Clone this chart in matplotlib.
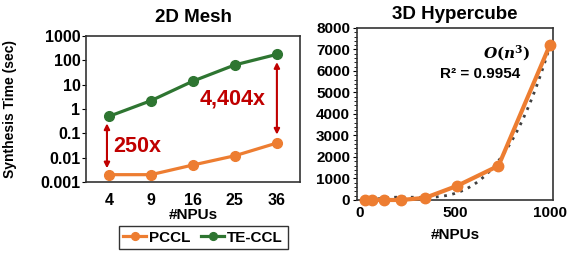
import numpy as np
import matplotlib.pyplot as plt
from matplotlib.ticker import MultipleLocator, LogLocator, NullFormatter

plt.rcParams['font.family'] = ['Liberation Sans', 'DejaVu Sans']
plt.rcParams['font.weight'] = 'bold'
plt.rcParams['axes.titleweight'] = 'bold'
plt.rcParams['axes.labelweight'] = 'bold'
plt.rcParams['mathtext.fontset'] = 'dejavuserif'

# 2D Mesh
mesh_npus = ["4", "9", "16", "25", "36"]
pccl_mesh = [0.002, 0.002, 0.005, 0.012, 0.04]
teccl_mesh = [0.5, 2.2, 14, 65, 176]

# 3D Hypercube
cube_npus = [27, 64, 125, 216, 343, 512, 729, 1000]
pccl_cube = [0, 0, 0, 0, 100, 660, 1590, 7220]

orange = '#ED7D31'
green = '#2E7531'
red = '#C00000'

fig = plt.figure(figsize=(5.69, 2.56), dpi=100)
ax1 = fig.add_axes([0.1511, 0.2891, 0.3761, 0.5703])
ax2 = fig.add_axes([0.6274, 0.2188, 0.3445, 0.6719])

# left panel
x = np.arange(len(mesh_npus))
ax1.plot(x, pccl_mesh, color=orange, lw=2.3, marker='o', ms=7, label='PCCL')
ax1.plot(x, teccl_mesh, color=green, lw=2.3, marker='o', ms=7, label='TE-CCL')
ax1.set_yscale('log')
ax1.set_ylim(0.001, 1000)
ax1.set_xlim(-0.55, 4.55)
ax1.set_xticks(x)
ax1.set_xticklabels(mesh_npus)
ax1.tick_params(axis='x', length=0, labelsize=11.5, pad=8)
ax1.set_yticks([0.001, 0.01, 0.1, 1, 10, 100, 1000])
ax1.set_yticklabels(['0.001', '0.01', '0.1', '1', '10', '100', '1000'])
ax1.yaxis.set_minor_locator(LogLocator(base=10, subs=np.arange(2, 10)))
ax1.yaxis.set_minor_formatter(NullFormatter())
ax1.tick_params(axis='y', which='major', length=3, labelsize=11.5, pad=1)
ax1.tick_params(axis='y', which='minor', length=2)
ax1.set_xlabel('#NPUs', fontsize=11, labelpad=0)
ax1.set_ylabel('Synthesis Time (sec)', fontsize=10)
ax1.yaxis.set_label_coords(-0.322, 0.5)
ax1.set_title('2D Mesh', fontsize=13.5, pad=10)
for s in ax1.spines.values():
    s.set_linewidth(1.2)
    s.set_color('#333333')

# speedup arrows
ax1.annotate('', xy=(-0.05, pccl_mesh[0] * 1.4), xytext=(-0.05, teccl_mesh[0] / 1.5),
             arrowprops=dict(arrowstyle='<|-|>', color=red, lw=1.5, mutation_scale=8))
ax1.text(0.1, 0.03, '250x', color=red, fontsize=15.5, ha='left', va='center')
ax1.annotate('', xy=(4.0, pccl_mesh[4] * 1.7), xytext=(4.0, teccl_mesh[4] / 1.6),
             arrowprops=dict(arrowstyle='<|-|>', color=red, lw=1.5, mutation_scale=8))
ax1.text(3.74, 2.6, '4,404x', color=red, fontsize=15.5, ha='right', va='center')

leg = fig.legend(loc='center', bbox_to_anchor=(0.357, 0.072), ncol=2, fontsize=11,
                 frameon=True, fancybox=False, edgecolor='black', handlelength=1.5,
                 handletextpad=0.2, columnspacing=0.7, borderpad=0.3, markerscale=0.8)
leg.get_frame().set_linewidth(1.0)

# right panel
coef = np.polyfit(cube_npus, pccl_cube, 3)
xf = np.linspace(50, 1000, 200)
ax2.plot(xf, np.polyval(coef, xf), color='#404040', lw=2, ls=(0, (1, 2)))
ax2.plot(cube_npus, pccl_cube, color=orange, lw=3, marker='o', ms=7.5, clip_on=False, zorder=3)
ax2.set_xlim(-16, 1016)
ax2.set_ylim(0, 8000)
ax2.set_xticks([0, 500, 1000])
ax2.set_yticks(np.arange(0, 8001, 1000))
ax2.yaxis.set_minor_locator(MultipleLocator(200))
ax2.tick_params(axis='x', length=0, labelsize=11, pad=4)
ax2.tick_params(axis='y', which='major', length=3, labelsize=11, pad=2)
ax2.tick_params(axis='y', which='minor', length=2)
ax2.set_xlabel('#NPUs', fontsize=11, labelpad=6)
ax2.set_title('3D Hypercube', fontsize=13.5, pad=6.5)
for s in ax2.spines.values():
    s.set_linewidth(1.2)
    s.set_color('#333333')
ax2.text(0.765, 0.855, r'$\mathbfit{O}(\mathbfit{n}^3)$', transform=ax2.transAxes, fontsize=11,
         ha='center', va='center')
ax2.text(0.628, 0.735, 'R² = 0.9954', transform=ax2.transAxes, fontsize=11,
         ha='center', va='center')

fig.savefig('out.png', dpi=100)
